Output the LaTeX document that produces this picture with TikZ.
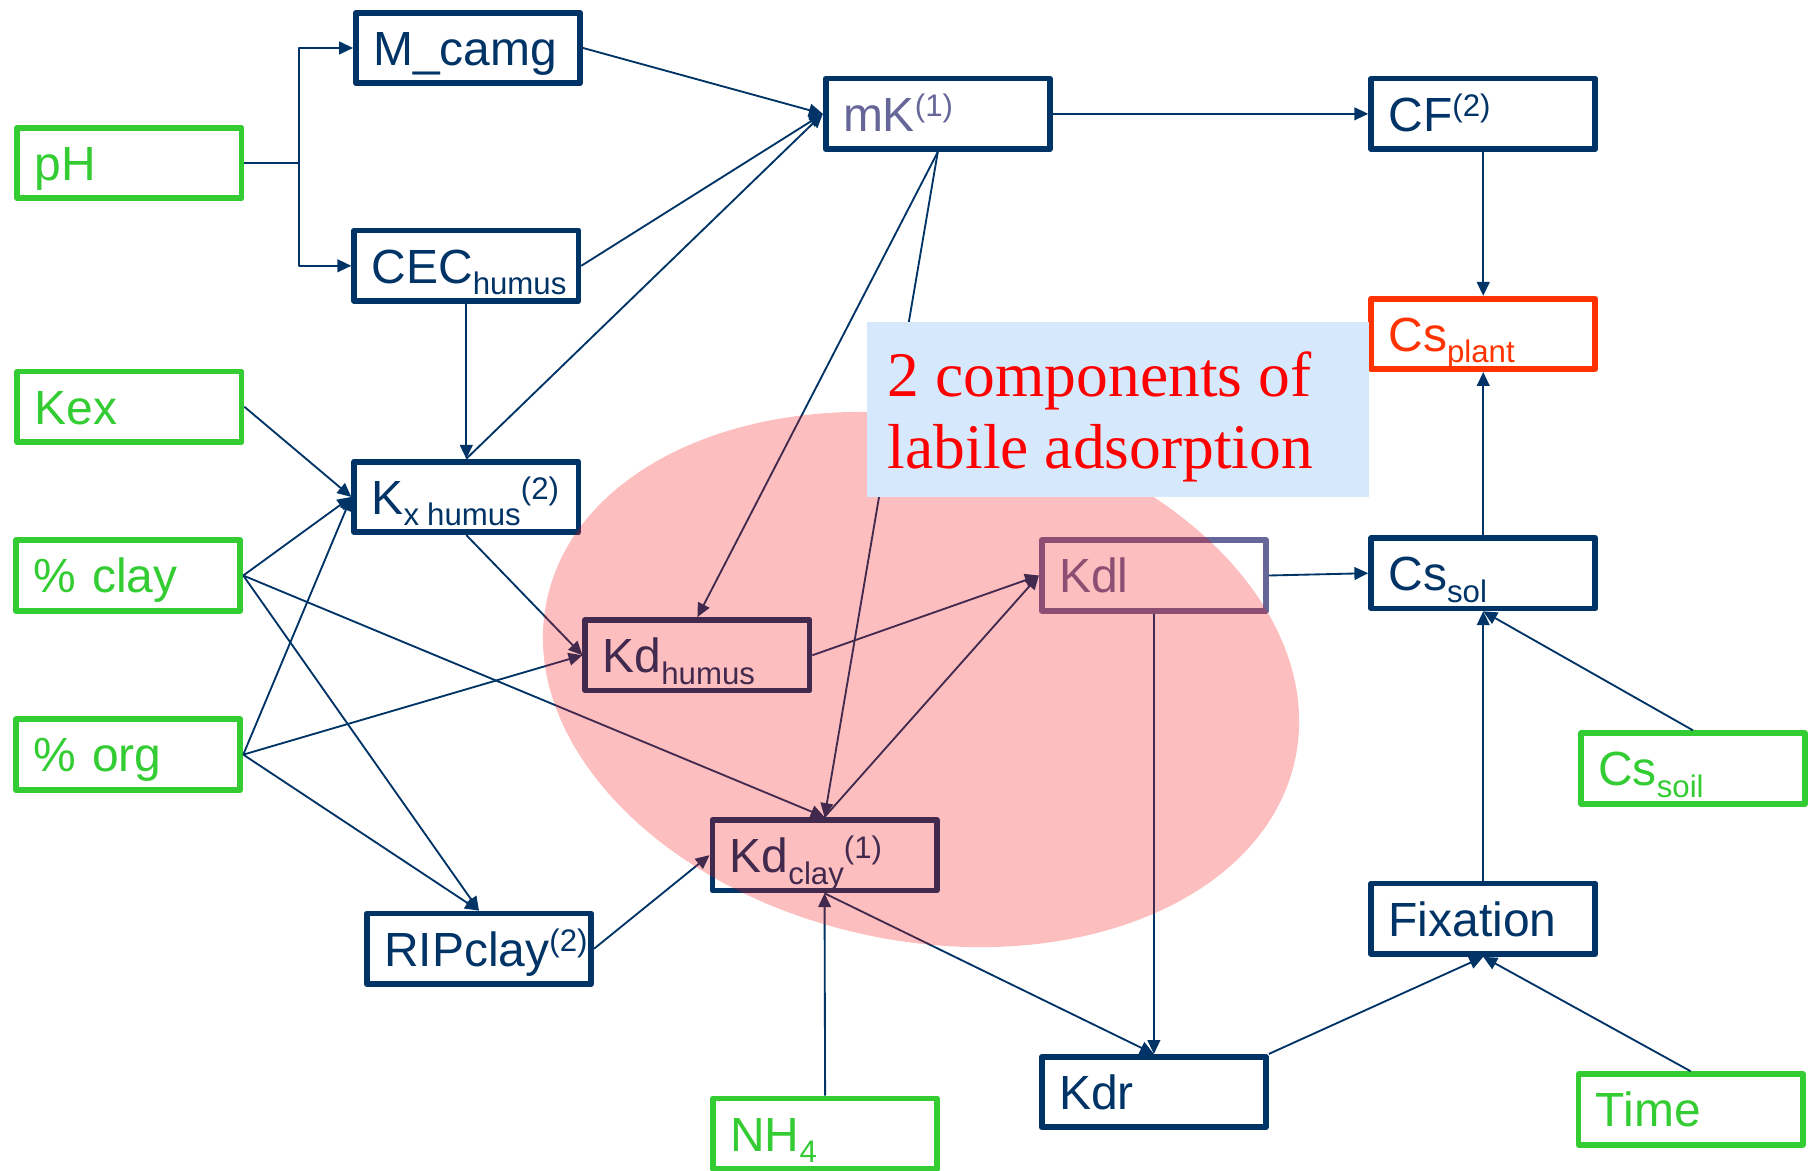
\documentclass[tikz,border=0pt]{standalone}
\usepackage{fontspec}
\setmainfont{Liberation Sans}
\newfontfamily\notefont{Liberation Serif}
\usetikzlibrary{arrows.meta}
\definecolor{navy}{RGB}{0,51,102}
\definecolor{leafgreen}{RGB}{51,204,51}
\definecolor{plantred}{RGB}{255,51,0}
\definecolor{slate}{RGB}{102,102,153}
\definecolor{skyfill}{RGB}{214,233,252}
\definecolor{blobred}{RGB}{244,16,16}
\newcommand{\lo}[1]{\raisebox{-10pt}{\fontsize{27}{27}\selectfont #1}}
\newcommand{\hi}[1]{\raisebox{12.5pt}{\fontsize{27}{27}\selectfont #1}}
\begin{document}
\begin{tikzpicture}[x=1pt, y=-1pt, line join=round,
		font=\fontsize{41.5}{48}\selectfont,
		>={Triangle[length=12pt,width=11pt]},
		var/.style={draw=navy, text=navy, fill=white, line width=5pt,
			minimum width=192pt, minimum height=61pt, text width=164pt,
			inner xsep=15pt, align=left, text height=30pt, text depth=0pt},
		input/.style={var, draw=leafgreen, text=leafgreen},
		conn/.style={->, draw=navy, line width=1.6pt}]
	\useasboundingbox (0,0) rectangle (1568,1013);
	% variables
	\path
	(112,141) node[input] (ph) {pH}
	(405,41.5) node[var] (mcamg) {M\_camg}
	(403.5,230) node[var] (cec) {CEC\lo{humus}}
	(811.5,98.5) node[var, text=slate] (mk) {mK\hi{(1)}}
	(1283.5,98.5) node[var] (cf) {CF\hi{(2)}}
	(1283.5,289) node[var, draw=plantred, text=plantred] (csplant) {Cs\lo{plant}}
	(112,352) node[input] (kex) {Kex}
	(403.5,430) node[var] (kx) {K\lo{x\hspace{7pt}humus}\hi{(2)}}
	(111,498) node[input] (clay) {\% clay}
	(603.5,567) node[var] (kdhumus) {Kd\lo{humus}}
	(998.5,498) node[var, draw=slate, text=slate] (kdl) {Kdl}
	(1283.5,496) node[var] (cssol) {Cs\lo{sol}}
	(111,653) node[input] (org) {\% org}
	(1465,665) node[input] (cssoil) {Cs\lo{soil}}
	(713.5,740) node[var] (kdclay) {Kd\lo{clay}\hi{(1)}}
	(414.5,821) node[var] (ripclay) {RIPclay\hi{(2)}}
	(1283.5,795) node[var] (fix) {Fixation}
	(998.5,945) node[var] (kdr) {Kdr}
	(1463,960) node[input] (time) {Time}
	(714,981) node[input] (nh4) {NH\lo{4}}
	;
	% links
	\coordinate (fork) at (259,141);
	\draw[conn] (ph.east) -- (fork) |- (mcamg.west);
	\draw[conn] (fork) |- (cec.west);
	\draw[conn] (mcamg.east) -- (mk.west);
	\draw[conn] (cec.east) -- (mk.west);
	\draw[conn] (kx.north) -- (mk.west);
	\draw[conn] (cec.south) -- (kx.north);
	\draw[conn] (mk.east) -- (cf.west);
	\draw[conn] (cf.south) -- (csplant.north);
	\draw[conn] (cssol.north) -- (csplant.south);
	\draw[conn] (kex.east) -- (kx.west);
	\draw[conn] (clay.east) -- (kx.west);
	\draw[conn] (org.east) -- (kx.west);
	\draw[conn] (clay.east) -- (kdclay.north);
	\draw[conn] (clay.east) -- (ripclay.north);
	\draw[conn] (org.east) -- (kdhumus.west);
	\draw[conn] (org.east) -- (ripclay.north);
	\draw[conn] (kx.south) -- (kdhumus.west);
	\draw[conn] (mk.south) -- (kdhumus.north);
	\draw[conn] (mk.south) -- (kdclay.north);
	\draw[conn] (kdhumus.east) -- (kdl.west);
	\draw[conn] (kdclay.north) -- (kdl.west);
	\draw[conn] (ripclay.east) -- (kdclay.west);
	\draw[conn] (nh4.north) -- (kdclay.south);
	\draw[conn] (kdclay.south) -- (kdr.north);
	\draw[conn] (kdl.south) -- (kdr.north);
	\draw[conn] (kdl.east) -- (cssol.west);
	\draw[conn] (kdr.north east) -- (fix.south);
	\draw[conn] (time.north) -- (fix.south);
	\draw[conn] (fix.north) -- (cssol.south);
	\draw[conn] (cssoil.north) -- (cssol.south);
	% labile part
	\fill[blobred, opacity=0.27, rotate around={-12:(797,588)}] (797,588) ellipse [x radius=331, y radius=226];
	\fill[skyfill] (750,279) rectangle (1185,430);
	\node[text=red, font=\notefont\fontsize{55}{62}\selectfont, align=left, inner sep=0pt, anchor=west] (note) at (768,361) {2 components of\\labile adsorption};
\end{tikzpicture}
\end{document}
